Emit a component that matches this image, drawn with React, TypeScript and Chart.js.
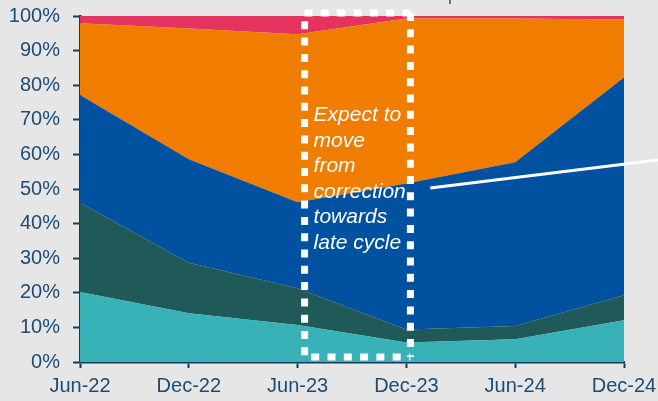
import React, { useEffect, useRef } from "react";
import { Chart, registerables } from "chart.js";

Chart.register(...registerables);

const categories = ["Jun-22", "Dec-22", "Jun-23", "Dec-23", "Jun-24", "Dec-24"];
const yTicks = [0, 10, 20, 30, 40, 50, 60, 70, 80, 90, 100];

const seriesTeal = [20.2, 14.1, 10.7, 5.6, 6.6, 12.1];
const seriesDarkTeal = [25.8, 14.6, 10.6, 3.8, 3.8, 7.2];
const seriesBlue = [31.2, 29.9, 24.9, 42.2, 47.3, 62.9];
const seriesOrange = [20.7, 37.8, 48.5, 47.7, 41.6, 16.8];
const seriesPink = [2.1, 3.6, 5.3, 0.7, 0.7, 1.0];

const annotationLines = ["Expect to", "move", "from", "correction", "towards", "late cycle"];

const AXIS = "#0F3E63";
const LABEL = "#1C4C73";
const FONT = "'Liberation Sans', Arial, sans-serif";

const annotationPlugin = {
  id: "annotation",
  afterDatasetsDraw(chart: any) {
    const { ctx } = chart;
    const xs = chart.scales.x;
    const ys = chart.scales.y;
    ctx.save();
    // dotted box
    const left = xs.getPixelForValue(2) + 7;
    const right = xs.getPixelForValue(3) + 4;
    const top = ys.getPixelForValue(100) - 3;
    const bottom = ys.getPixelForValue(0) - 5;
    ctx.strokeStyle = "#FFFFFF";
    ctx.lineWidth = 7;
    ctx.setLineDash([8, 8.3]);
    ctx.lineCap = "butt";
    ctx.beginPath();
    ctx.moveTo(right, top);
    ctx.lineTo(left, top);
    ctx.lineTo(left, bottom);
    ctx.lineTo(right, bottom);
    ctx.stroke();
    ctx.beginPath();
    ctx.moveTo(right, top);
    ctx.lineTo(right, bottom);
    ctx.stroke();
    ctx.setLineDash([]);
    // text
    ctx.fillStyle = "#FFFFFF";
    ctx.font = "italic 21px " + FONT;
    ctx.textAlign = "left";
    ctx.textBaseline = "alphabetic";
    annotationLines.forEach((t, i) => {
      ctx.fillText(t, left + 9, top + 108 + i * 25.6);
    });
    // pointer line
    ctx.strokeStyle = "#FFFFFF";
    ctx.lineWidth = 3;
    ctx.beginPath();
    ctx.moveTo(xs.getPixelForValue(3.22), ys.getPixelForValue(50.3));
    ctx.lineTo(chart.width, ys.getPixelForValue(58.4));
    ctx.stroke();
    // cut-off title descender
    ctx.fillStyle = "#555555";
    ctx.font = "18px " + FONT;
    ctx.fillText("p", 448, 0);
    ctx.restore();
  },
};

export default function App() {
  const ref = useRef<HTMLCanvasElement>(null);
  useEffect(() => {
    const mk = (label: string, data: number[], color: string, fill: any) => ({
      label,
      data,
      backgroundColor: color,
      borderColor: color,
      borderWidth: 0,
      pointRadius: 0,
      fill,
      tension: 0,
    });
    const chart = new Chart(ref.current!, {
      type: "line",
      data: {
        labels: categories,
        datasets: [
          mk("Teal", seriesTeal, "#38B2B6", "origin"),
          mk("Dark teal", seriesDarkTeal, "#1F5A58", "-1"),
          mk("Blue", seriesBlue, "#00519F", "-1"),
          mk("Orange", seriesOrange, "#F07D00", "-1"),
          mk("Pink", seriesPink, "#E5335F", "-1"),
        ],
      },
      options: {
        animation: false,
        responsive: false,
        devicePixelRatio: 1,
        layout: { padding: { top: 16, right: 34, left: 0, bottom: 0 } },
        plugins: { legend: { display: false }, tooltip: { enabled: false } },
        scales: {
          x: {
            type: "category",
            offset: false,
            grid: {
              display: true,
              drawOnChartArea: false,
              drawTicks: true,
              tickLength: 6,
              tickWidth: 2,
              tickColor: AXIS,
            },
            border: { display: true, color: AXIS, width: 2.5 },
            ticks: {
              color: LABEL,
              font: { family: FONT, size: 20 },
              padding: 6,
              maxRotation: 0,
              autoSkip: false,
            },
            afterFit(scale: any) {
              scale.height = 39;
              scale.paddingLeft = 0;
              scale.paddingRight = 0;
            },
          },
          y: {
            stacked: true,
            min: 0,
            max: 100,
            afterBuildTicks(scale: any) {
              scale.ticks = yTicks.map((v) => ({ value: v }));
            },
            grid: {
              display: true,
              drawOnChartArea: false,
              drawTicks: true,
              tickLength: 7,
              tickWidth: 2,
              tickColor: AXIS,
            },
            border: { display: true, color: AXIS, width: 2.5 },
            ticks: {
              color: LABEL,
              font: { family: FONT, size: 20 },
              padding: 13,
              callback: (v: any) => v + "%",
            },
            afterFit(scale: any) {
              scale.width = 80;
              scale.paddingTop = 0;
              scale.paddingBottom = 0;
            },
          },
        },
      },
      plugins: [annotationPlugin],
    });
    return () => chart.destroy();
  }, []);
  return (
    <div
      style={{
        position: "fixed",
        left: 0,
        top: 0,
        width: "100vw",
        height: "100vh",
        background: "#E6E6E6",
      }}
    >
      <canvas ref={ref} width={658} height={401} style={{ display: "block" }} />
    </div>
  );
}
